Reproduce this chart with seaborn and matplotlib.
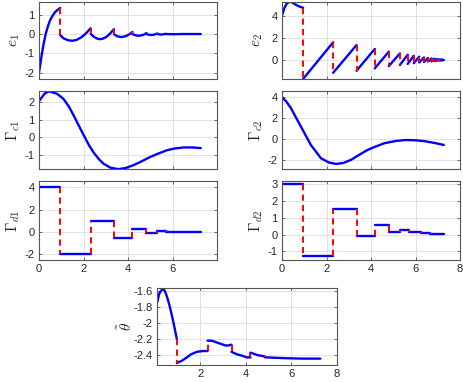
import matplotlib
matplotlib.use("Agg")
import matplotlib.pyplot as plt
import seaborn as sns
from matplotlib.ticker import FuncFormatter

# --- data (duplicate time = jump, drawn red dashed) ---
e1_t = [0, 0.1, 0.2, 0.3, 0.4, 0.5, 0.6, 0.7, 0.8, 0.9, 0.95,
        0.95, 1.1, 1.3, 1.5, 1.7, 1.9, 2.1, 2.32,
        2.32, 2.45, 2.6, 2.75, 2.9, 3.05, 3.2, 3.37,
        3.37, 3.5, 3.7, 3.9, 4.05, 4.2,
        4.2, 4.35, 4.5, 4.7, 4.83,
        4.83, 5.0, 5.15, 5.32,
        5.32, 5.5, 5.7,
        5.7, 6.0, 6.5, 7.27]
e1_y = [-2.0, -1.25, -0.55, 0.0, 0.4, 0.72, 0.93, 1.1, 1.22, 1.31, 1.35,
        -0.05, -0.22, -0.32, -0.35, -0.3, -0.17, 0.02, 0.3,
        0.02, -0.13, -0.23, -0.27, -0.23, -0.13, 0.03, 0.25,
        0.0, -0.11, -0.16, -0.11, -0.02, 0.1,
        0.0, -0.07, -0.09, -0.04, 0.05,
        0.0, -0.05, -0.04, 0.03,
        0.0, -0.03, 0.01,
        0.0, -0.01, 0.0, 0.0]

e2_start_t = [0, 0.1, 0.2, 0.33, 0.45, 0.6, 0.75, 0.95]
e2_start_y = [4.0, 4.65, 5.05, 5.25, 5.2, 5.0, 4.85, 4.7]
e2_jump_t = [0.95, 2.3, 3.35, 4.17, 4.8, 5.3, 5.65, 5.92, 6.17, 6.38,
             6.56, 6.72, 6.85, 6.96, 7.05, 7.12, 7.18, 7.23]
e2_low = [-1.7, -1.15, -0.97, -0.75, -0.55, -0.45, -0.35, -0.28, -0.22, -0.18,
          -0.14, -0.11, -0.09, -0.07, -0.05, -0.04, -0.03, -0.02]
e2_high = [1.6, 1.35, 1.0, 0.75, 0.6, 0.48, 0.38, 0.3, 0.24, 0.19,
           0.15, 0.12, 0.09, 0.07, 0.05, 0.04, 0.03, 0.0]
t_end = 7.27

gc1_t = [0, 0.25, 0.45, 0.8, 1.1, 1.35, 1.55, 1.8, 2.0, 2.25, 2.45, 2.7, 2.9,
         3.2, 3.57, 3.9, 4.25, 4.6, 5.0, 5.4, 5.75, 6.1, 6.5, 6.9, 7.27]
gc1_y = [2.07, 2.5, 2.63, 2.5, 2.2, 1.75, 1.27, 0.65, 0.15, -0.45, -0.85, -1.25,
         -1.5, -1.72, -1.81, -1.74, -1.58, -1.37, -1.11, -0.9, -0.73, -0.63,
         -0.57, -0.57, -0.61]

gc2_t = [0, 0.2, 0.4, 0.85, 1.3, 1.75, 2.1, 2.43, 2.75, 3.1, 3.45, 3.85, 4.2,
         4.6, 5.1, 5.57, 6.0, 6.4, 6.85, 7.27]
gc2_y = [4.0, 3.55, 2.95, 1.2, -0.55, -1.8, -2.2, -2.34, -2.25, -1.96, -1.5,
         -1.01, -0.7, -0.38, -0.17, -0.07, -0.1, -0.18, -0.35, -0.54]

gd1_switch = [0.95, 2.32, 3.37, 4.2, 4.83, 5.32, 5.72, 6.1]
gd1_level = [4, -2, 1, -0.5, 0.27, -0.12, 0.07, -0.03, 0.0]
gd2_switch = [0.95, 2.3, 3.35, 4.17, 4.8, 5.3, 5.7, 6.25, 6.65, 7.0]
gd2_level = [3, -1.3, 1.55, -0.1, 0.6, 0.13, 0.29, 0.14, 0.1, 0.06, 0.02]

th_t = [0.1, 0.2, 0.3, 0.37, 0.45, 0.55, 0.65, 0.75, 0.85, 0.97,
        0.97, 1.2, 1.41, 1.6, 1.85, 2.1, 2.32,
        2.32, 2.5, 2.8, 3.1, 3.25, 3.37,
        3.37, 3.6, 3.85, 4.05, 4.2,
        4.2, 4.5, 4.83,
        4.83, 5.3, 5.8, 6.5, 7.27]
th_y = [-1.75, -1.63, -1.585, -1.575, -1.6, -1.68, -1.78, -1.9, -2.03, -2.2,
        -2.5, -2.47, -2.43, -2.39, -2.36, -2.35, -2.35,
        -2.22, -2.22, -2.25, -2.28, -2.28, -2.27,
        -2.36, -2.39, -2.41, -2.43, -2.43,
        -2.37, -2.4, -2.418,
        -2.428, -2.435, -2.44, -2.445, -2.445]


def steps(switch, level, end):
    t, y = [0], [level[0]]
    for k, s in enumerate(switch):
        t += [s, s]
        y += [level[k], level[k + 1]]
    t.append(end)
    y.append(level[-1])
    return t, y


def sawtooth(t0, y0, jt, low, high, end):
    t, y = list(t0), list(y0)
    nxt = jt[1:] + [end]
    for k in range(len(jt)):
        t += [jt[k], nxt[k]]
        y += [low[k], high[k]]
    return t, y


def draw(ax, t, y):
    start = 0
    jumps = []
    for i in range(1, len(t) + 1):
        if i == len(t) or t[i] == t[i - 1]:
            sns.lineplot(x=t[start:i], y=y[start:i], ax=ax, color="#0000ff",
                         lw=1.7, estimator=None, sort=False)
            if i < len(t):
                jumps.append(([t[i - 1], t[i]], [y[i - 1], y[i]]))
            start = i
    for jx, jy in jumps:
        sns.lineplot(x=jx, y=jy, ax=ax, color="#ff0000", lw=1.4,
                     linestyle=(0, (3.2, 2.2)), estimator=None, sort=False)


sns.set_theme(style="whitegrid")
plt.rcParams["font.family"] = ["Liberation Sans", "DejaVu Sans"]
plt.rcParams["mathtext.fontset"] = "cm"
plt.rcParams["axes.unicode_minus"] = False

W, H = 463, 382
fig = plt.figure(figsize=(W / 100, H / 100), dpi=100)


def make_ax(l, t, r, b):
    return fig.add_axes([l / W, 1 - b / H, (r - l) / W, (b - t) / H])


def style(ax, xlim, ylim, yticks, label, xlabels=None, labx=-0.095,
          xticks=(0, 2, 4, 6, 8)):
    ax.set_xlim(xlim)
    ax.set_ylim(ylim)
    ax.set_xticks(list(xticks))
    ax.set_yticks(yticks)
    ax.yaxis.set_major_formatter(FuncFormatter(lambda v, p: "%g" % v))
    if xlabels is None:
        ax.set_xticklabels([])
    else:
        ax.set_xticklabels(xlabels)
    ax.grid(True, color="#e2e2e2", lw=0.7)
    ax.set_facecolor("white")
    for s in ax.spines.values():
        s.set_color("#555555")
        s.set_linewidth(0.8)
    ax.tick_params(which="both", direction="in", length=2.5, width=0.6,
                   color="#555555", labelsize=8, labelcolor="#262626",
                   pad=3, bottom=True, left=True, top=True, right=True)
    ax.set_xlabel("")
    ax.set_ylabel(label, fontsize=11, color="#262626")
    ax.yaxis.set_label_coords(labx, 0.5)


ax = make_ax(39, 2, 217, 79)
draw(ax, e1_t, e1_y)
style(ax, (0, 8), (-2.33, 1.66), [-2, -1, 0, 1], r"$e_1$")

ax = make_ax(282, 2, 460, 79)
t2, y2 = sawtooth(e2_start_t, e2_start_y, e2_jump_t, e2_low, e2_high, t_end)
draw(ax, t2, y2)
style(ax, (0, 8), (-1.71, 5.23), [0, 2, 4], r"$e_2$")

ax = make_ax(39, 91, 217, 169)
draw(ax, gc1_t, gc1_y)
style(ax, (0, 8), (-1.8, 2.65), [-1, 0, 1, 2], r"$\Gamma_{c1}$")

ax = make_ax(282, 91, 460, 169)
draw(ax, gc2_t, gc2_y)
style(ax, (0, 8), (-2.82, 4.57), [-2, 0, 2, 4], r"$\Gamma_{c2}$")

ax = make_ax(39, 181, 217, 260)
td, yd = steps(gd1_switch, gd1_level, t_end)
draw(ax, td, yd)
style(ax, (0, 8), (-2.5, 4.55), [-2, 0, 2, 4], r"$\Gamma_{d1}$",
      xlabels=["0", "2", "4", "6", ""])

ax = make_ax(282, 181, 460, 260)
td, yd = steps(gd2_switch, gd2_level, t_end)
draw(ax, td, yd)
style(ax, (0, 8), (-1.52, 3.2), [-1, 0, 1, 2, 3], r"$\Gamma_{d2}$",
      xlabels=["0", "2", "4", "6", "8"])

ax = make_ax(157, 288, 337, 365)
draw(ax, th_t, th_y)
style(ax, (0.1, 8), (-2.525, -1.56), [-2.4, -2.2, -2, -1.8, -1.6],
      r"$\tilde{\theta}$", xlabels=["2", "4", "6", "8"], labx=-0.125,
      xticks=(2, 4, 6, 8))

fig.savefig("out.png", dpi=100)
